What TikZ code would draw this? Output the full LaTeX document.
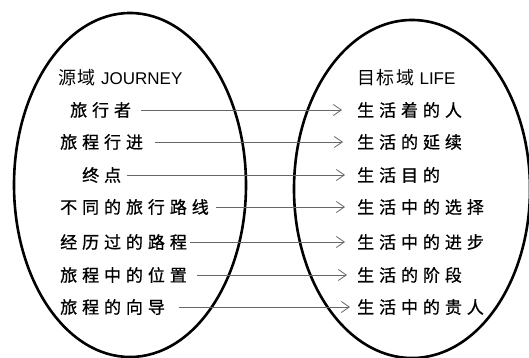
\documentclass[tikz,border=0pt]{standalone}
\usepackage{fontspec}
\usetikzlibrary{arrows.meta}
\newfontfamily\cjk[LetterSpace=29,FakeBold=0.8]{Noto Sans CJK SC}
\newfontfamily\cjkh[LetterSpace=8]{Noto Sans CJK SC}
\newfontfamily\lat{Liberation Sans}
\begin{document}
\begin{tikzpicture}[x=1pt,y=-1pt,
  src/.style={anchor=west,inner sep=0pt,font=\cjk\fontsize{17}{17}\selectfont},
  tgt/.style={anchor=west,inner sep=0pt,font=\cjk\fontsize{17}{17}\selectfont},
  hd/.style={anchor=west,inner sep=0pt,font=\fontsize{18}{18}\selectfont},
  map/.style={draw=black!60,line width=0.8pt,-{Straight Barb[length=8pt,width=11pt,line width=0.8pt]}},
  dom/.style={draw=black,line width=2.6pt}]
\useasboundingbox (0,0) rectangle (529,358);
% domains
\path[dom] (130,185) ellipse [x radius=116,y radius=172];
\path[dom] (412,189) ellipse [x radius=118,y radius=169];
% headers
\node[hd] (hs) at (58,78) {\cjkh 源域 \lat\fontsize{17}{17}\selectfont JOURNEY};
\node[hd] (ht) at (357,78) {\cjkh 目标域 \lat\fontsize{17}{17}\selectfont LIFE};
% source items
\node[src] (s1) at (70,110) {旅行者};
\node[src] (s2) at (60,142) {旅程行进};
\node[src] (s3) at (82,175) {终点};
\node[src] (s4) at (60,207) {不同的旅行路线};
\node[src] (s5) at (60,242) {经历过的路程};
\node[src] (s6) at (60,275) {旅程中的位置};
\node[src] (s7) at (60,307) {旅程的向导};
% target items
\node[tgt] (t1) at (357,110) {生活着的人};
\node[tgt] (t2) at (357,142) {生活的延续};
\node[tgt] (t3) at (357,175) {生活目的};
\node[tgt] (t4) at (357,207) {生活中的选择};
\node[tgt] (t5) at (357,242) {生活中的进步};
\node[tgt] (t6) at (357,275) {生活的阶段};
\node[tgt] (t7) at (357,307) {生活中的贵人};
% mappings
\draw[map,shorten <=10pt,shorten >=15pt] (s1.east) -- (t1.west);
\draw[map,shorten <=12pt,shorten >=14pt] (s2.east) -- (t2.west);
\draw[map,shorten <=6pt,shorten >=12pt] (s3.east) -- (t3.west);
\draw[map,shorten <=7pt,shorten >=12pt] (s4.east) -- (t4.west);
\draw[map,shorten <=3pt,shorten >=12pt] (s5.east) -- (t5.west);
\draw[map,shorten <=10pt,shorten >=10pt] (s6.east) -- (t6.west);
\draw[map,shorten <=14pt,shorten >=7pt] (s7.east) -- (t7.west);
\end{tikzpicture}
\end{document}
